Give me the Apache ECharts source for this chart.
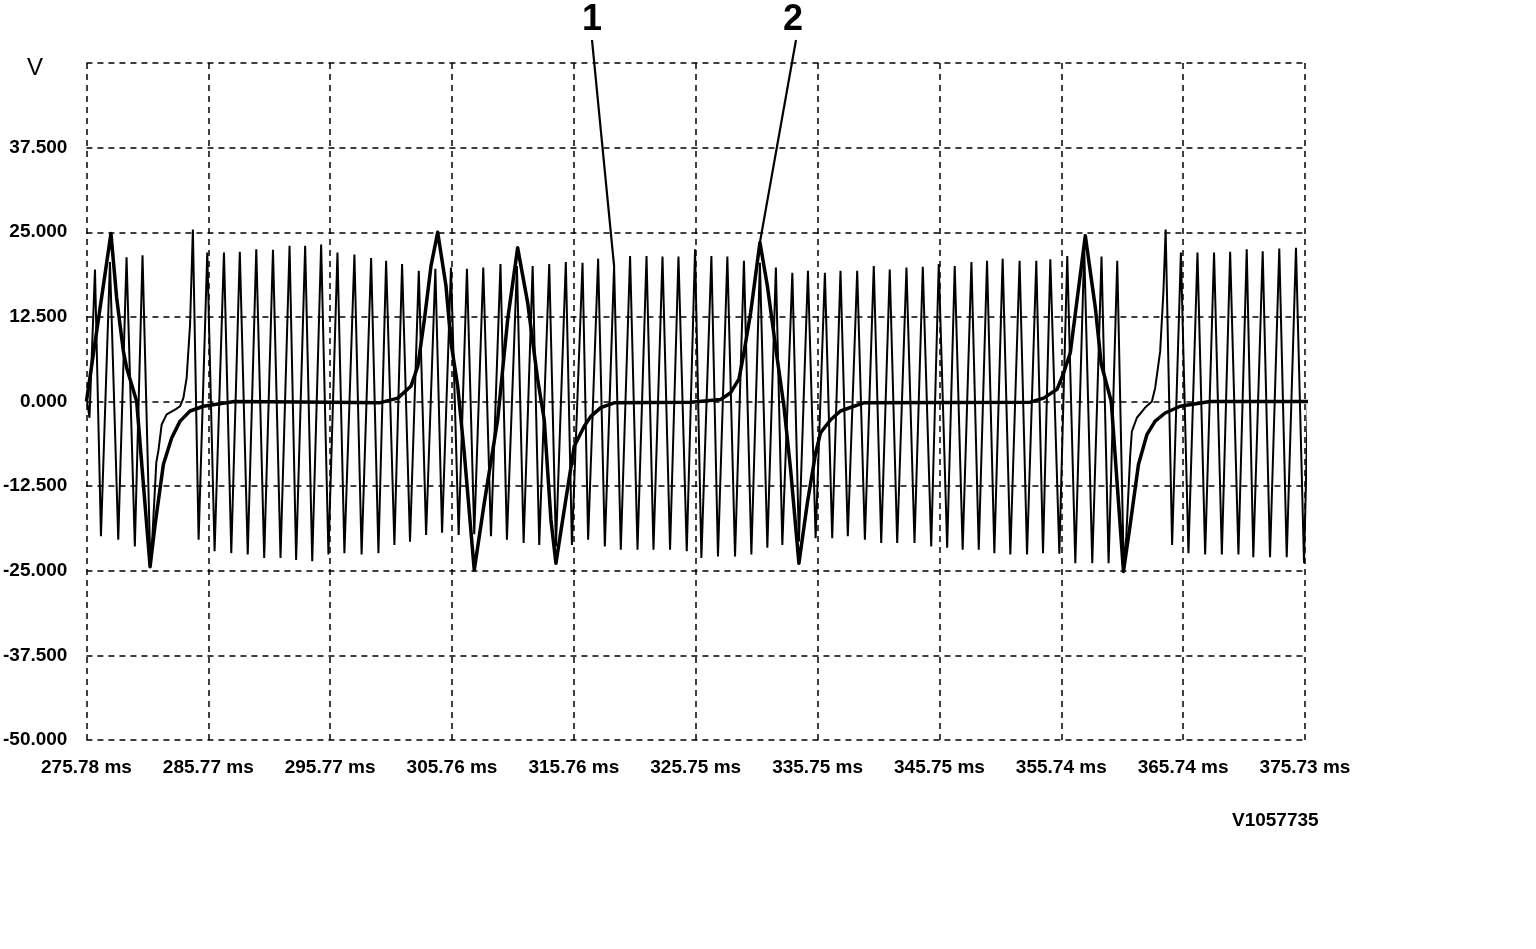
<!DOCTYPE html>
<html>
<head>
<meta charset="utf-8">
<script src="https://cdn.jsdelivr.net/npm/echarts@6/dist/echarts.min.js"></script>
<style>
html,body{margin:0;padding:0;background:#fff;}
#chart{width:1536px;height:949px;}
</style>
</head>
<body>
<div id="chart"></div>
<script>
// ---- axis ticks ----
var xStart = 275.78;       // ms at left edge
var xEnd = 375.73;         // ms at right edge
var xTickLabels = ['275.78 ms','285.77 ms','295.77 ms','305.76 ms','315.76 ms','325.75 ms',
                   '335.75 ms','345.75 ms','355.74 ms','365.74 ms','375.73 ms'];
var yMin = -50, yMax = 50, yStep = 12.5;

// ---- curve 1 : crank sensor (thin), [ms, V] ----
var crankSignal = [
  [275.80,0.5],[276.03,-2.4],[276.48,19.5],[276.97,-19.9],[277.71,20.6],[278.39,-20.4],
  [279.07,21.3],[279.75,-21.4],[280.38,21.6],[281.02,-23.8],
  [281.19,-20.0],[281.51,-9.0],[281.68,-7.3],[281.95,-3.4],[282.36,-1.9],[283.05,-1.2],
  [283.46,-0.7],[283.73,0.5],[284.00,3.5],[284.28,11.4],[284.51,25.4],
  [284.98,-20.4],[285.69,22.0],[286.29,-22.1],[287.06,22.0],[287.66,-22.4],[288.36,22.1],
  [289.01,-22.6],[289.71,22.5],[290.36,-23.1],[291.08,22.4],[291.70,-23.1],[292.44,23.0],
  [292.98,-23.4],[293.72,23.0],[294.30,-23.6],[295.03,23.2],[295.63,-22.6],[296.37,22.0],
  [296.94,-22.4],[297.76,21.7],[298.35,-22.6],[299.13,21.2],[299.73,-22.4],[300.36,20.8],
  [301.04,-21.2],[301.67,20.3],[302.32,-20.7],[303.04,19.3],[303.64,-19.7],[304.40,19.6],
  [304.95,-19.4],[305.68,19.8],[306.31,-19.7],[306.99,19.6],[307.59,-19.6],[308.33,19.8],
  [308.96,-19.9],[309.74,20.3],[310.27,-20.4],[311.09,20.0],[311.64,-20.9],[312.38,20.0],
  [312.92,-21.2],[313.74,20.3],[314.29,-21.4],[315.10,20.6],[315.60,-21.2],[316.47,20.5],
  [316.93,-20.4],[317.75,21.1],[318.30,-21.4],[319.06,20.0],[319.61,-21.9],[320.37,21.5],
  [320.98,-21.9],[321.72,21.5],[322.29,-21.9],[323.03,21.4],[323.65,-21.9],[324.34,21.4],
  [325.02,-22.1],[325.70,22.5],[326.22,-23.1],[327.04,21.5],[327.58,-22.9],[328.35,21.4],
  [328.98,-22.9],[329.71,20.8],[330.32,-22.6],[331.02,20.5],[331.63,-21.6],[332.33,19.8],
  [332.86,-21.2],[333.68,19.0],[334.22,-20.7],[334.96,19.3],[335.59,-20.2],[336.35,19.0],
  [336.95,-20.2],[337.63,19.3],[338.23,-19.9],[339.00,19.3],[339.63,-20.4],[340.36,20.0],
  [340.97,-20.9],[341.67,19.5],[342.28,-20.9],[343.04,19.8],[343.70,-20.9],[344.38,19.9],
  [345.07,-21.4],[345.69,20.3],[346.38,-21.6],[347.00,20.0],[347.65,-21.9],[348.37,20.6],
  [348.97,-21.9],[349.65,20.8],[350.25,-22.4],[350.93,21.1],[351.56,-22.6],[352.32,20.8],
  [352.93,-22.6],[353.69,20.8],[354.24,-22.4],[354.84,21.0],[355.58,-22.5],[356.23,21.5],
  [356.89,-23.9],[357.62,22.5],[358.28,-23.9],[359.04,21.4],[359.62,-23.9],[360.33,20.8],
  [360.86,-24.3],
  [361.07,-20.0],[361.39,-8.0],[361.53,-4.4],[361.94,-2.4],[362.62,-0.9],[363.17,0.0],
  [363.44,2.0],[363.85,7.4],[364.12,16.3],[364.30,25.4],
  [364.83,-21.2],[365.55,22.0],[366.17,-22.4],[366.91,22.0],[367.54,-22.6],[368.27,22.0],
  [368.91,-22.6],[369.59,22.1],[370.27,-22.6],[370.95,22.5],[371.49,-23.0],[372.26,22.2],
  [372.86,-23.0],[373.62,22.6],[374.23,-23.0],[374.99,22.7],[375.65,-23.9],[376.28,23.2]
];

// ---- curve 2 : cam sensor (thick), [ms, V] ----
var camSignal = [
  [275.78,0.0],[277.79,24.8],[278.26,15.3],[278.81,7.4],[279.08,5.0],[279.90,0.0],
  [281.00,-24.4],[281.41,-18.2],[282.09,-9.3],[282.77,-5.4],[283.46,-2.9],[284.28,-1.4],
  [285.37,-0.7],[287.91,0.0],[295.85,-0.1],[299.81,-0.2],[301.32,0.5],[302.41,2.3],
  [302.96,5.2],[303.50,12.1],[304.04,20.0],[304.59,25.0],[305.27,17.1],[305.68,8.7],
  [306.23,2.3],[306.77,-7.6],[307.59,-24.9],[308.41,-15.0],[309.51,-2.7],[310.33,12.1],
  [311.15,22.7],[311.97,14.6],[312.79,3.3],[313.33,-2.7],[313.88,-17.5],[314.29,-23.9],
  [314.97,-16.0],[315.79,-6.6],[316.60,-3.7],[317.15,-2.2],[317.97,-0.9],[319.06,-0.2],
  [325.35,-0.1],[327.80,0.3],[328.62,1.3],[329.30,3.3],[329.71,7.2],[330.26,13.1],
  [331.02,23.5],[331.63,17.1],[332.45,6.2],[332.99,-0.7],[333.54,-10.1],[334.22,-23.9],
  [334.91,-15.0],[335.59,-7.6],[336.00,-4.6],[336.82,-2.7],[337.63,-1.4],[339.54,-0.2],
  [353.20,-0.1],[354.29,0.5],[355.39,1.8],[355.93,4.2],[356.48,7.2],[357.71,24.5],
  [358.53,13.9],[359.02,5.5],[359.84,0.0],[360.84,-25.1],[361.39,-18.2],[362.07,-9.3],
  [362.76,-4.9],[363.44,-2.9],[364.26,-1.7],[365.49,-0.7],[367.95,0.0],[376.28,0.0]
];

// ---- annotations: label text and the point each leader points at ----
var calloutLabels = ['1', '2'];
var calloutTargets = [[319.06, 20.0], [331.02, 23.5]];
var drawingCode = 'V1057735';
var unitLabel = 'V';

var xSpan = xEnd - xStart;
var xStep = xSpan / 10;
function shift(arr){ return arr.map(function(p){ return [p[0] - xStart, p[1]]; }); }

var font = '"Liberation Sans", Arial, sans-serif';
var dash = { color: '#000', width: 1.5, type: [6, 5] };

var chart = echarts.init(document.getElementById('chart'), null, { renderer: 'canvas' });
chart.setOption({
  animation: false,
  backgroundColor: '#fff',
  grid: { left: 85, right: 231, top: 63, bottom: 209, containLabel: false },
  xAxis: {
    type: 'value', min: 0, max: xSpan, interval: xStep,
    axisLine: { show: false }, axisTick: { show: false },
    splitLine: { show: true, lineStyle: dash },
    axisLabel: {
      margin: 18, color: '#000', fontFamily: font, fontWeight: 'bold', fontSize: 19,
      showMinLabel: true, showMaxLabel: true,
      formatter: function (v) { return xTickLabels[Math.round(v / xStep)] || ''; }
    }
  },
  yAxis: {
    type: 'value', min: yMin, max: yMax, interval: yStep,
    axisLine: { show: false }, axisTick: { show: false },
    splitLine: { show: true, lineStyle: dash },
    axisLabel: {
      margin: 19, color: '#000', fontFamily: font, fontWeight: 'bold', fontSize: 19,
      formatter: function (v) { return v === yMax ? '' : v.toFixed(3); }
    }
  },
  series: [
    {
      name: 'crank', type: 'line', data: shift(crankSignal), showSymbol: false,
      clip: false, lineStyle: { color: '#000', width: 2 }, z: 2
    },
    {
      name: 'cam', type: 'line', data: shift(camSignal), showSymbol: false,
      clip: false, lineStyle: { color: '#000', width: 3.5, join: 'round' }, z: 3
    }
  ]
});

var labelPos = [[592, 20], [793, 20]];
var graphics = [
  { type: 'text', left: 27, top: 56, style: { text: unitLabel, fill: '#000', font: '24px ' + font } },
  { type: 'text', left: 1232, top: 811, style: { text: drawingCode, fill: '#000', font: 'bold 19px ' + font } }
];
calloutLabels.forEach(function (lab, i) {
  var p = chart.convertToPixel({ gridIndex: 0 }, [calloutTargets[i][0] - xStart, calloutTargets[i][1]]);
  graphics.push({
    type: 'text', x: labelPos[i][0], y: labelPos[i][1],
    style: { text: lab, fill: '#000', font: 'bold 36px ' + font, align: 'center', verticalAlign: 'middle' }
  });
  graphics.push({
    type: 'line', shape: { x1: labelPos[i][0] + (i === 0 ? 0 : 3), y1: labelPos[i][1] + 20, x2: p[0], y2: p[1] },
    style: { stroke: '#000', lineWidth: 2.2 }
  });
});
chart.setOption({ graphic: graphics });
</script>
</body>
</html>
